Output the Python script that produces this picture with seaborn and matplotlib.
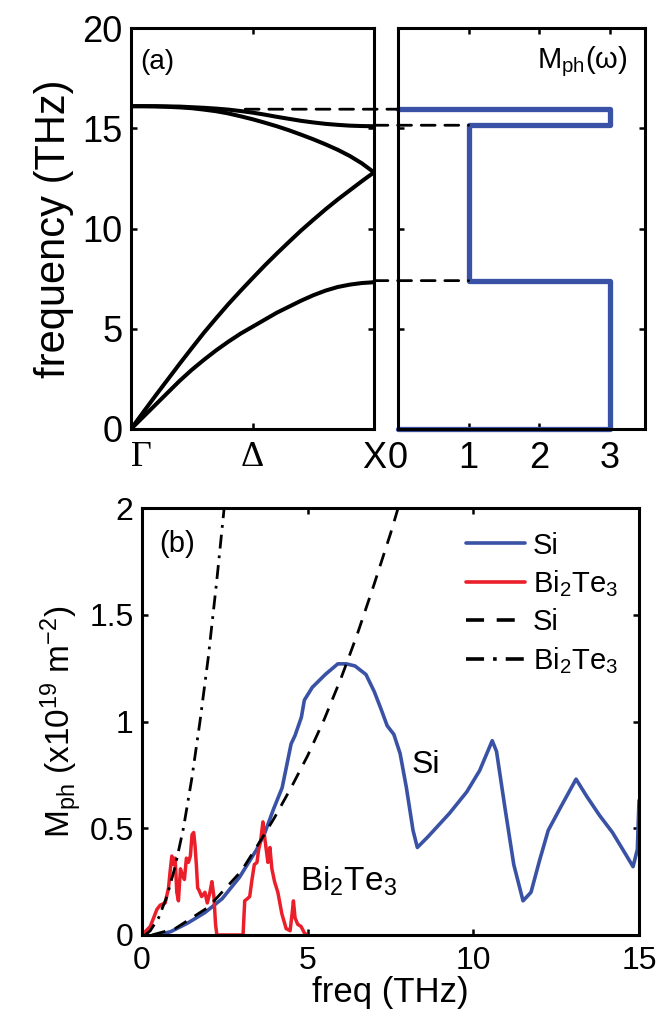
import numpy as np
import pandas as pd
import matplotlib
matplotlib.use("Agg")
import matplotlib.pyplot as plt
from matplotlib.patches import ConnectionPatch
import seaborn as sns

# ---------------- data: panel (a) dispersion ----------------
k_path = [0.0, 0.05, 0.1, 0.15, 0.2, 0.25, 0.3, 0.35, 0.4, 0.45, 0.5,
          0.55, 0.6, 0.65, 0.7, 0.75, 0.8, 0.85, 0.9, 0.95, 1.0]
ta_branch = [0.0, 0.6, 1.2, 1.8, 2.4, 2.95, 3.45, 3.92, 4.35, 4.75, 5.1,
             5.45, 5.8, 6.1, 6.4, 6.67, 6.9, 7.08, 7.2, 7.28, 7.32]
la_branch = [0.0, 0.83, 1.65, 2.45, 3.25, 4.03, 4.8, 5.52, 6.22, 6.88, 7.52,
             8.15, 8.75, 9.33, 9.9, 10.43, 10.95, 11.44, 11.9, 12.36, 12.8]
lo_branch = [16.1, 16.1, 16.09, 16.07, 16.04, 16.0, 15.93, 15.85, 15.74, 15.6, 15.45,
             15.28, 15.1, 14.9, 14.68, 14.45, 14.2, 13.93, 13.62, 13.25, 12.8]
to_branch = [16.1, 16.1, 16.1, 16.09, 16.08, 16.05, 16.02, 15.98, 15.93, 15.86, 15.78,
             15.68, 15.57, 15.47, 15.37, 15.29, 15.22, 15.17, 15.13, 15.11, 15.1]
k_labels = ["\u0393", "\u0394", "X"]

# step function M_ph(omega)
mph_edges = [0.0, 7.4, 15.15, 15.95]
mph_levels = [3, 1, 3, 0]
dash_start_k = [0.47, 1.0, 1.0]          # where the dashed guides start in panel (a)
dash_freq = [15.95, 15.15, 7.4]
dash_end_m = [0.0, 1.0, 1.0]

# ---------------- data: panel (b) ----------------
si_freq = [0.48, 0.87, 1.38, 1.9, 2.42, 2.94, 3.46, 3.71, 3.97, 4.23, 4.5, 4.62, 4.81, 4.9,
           5.14, 5.53, 5.91, 6.17, 6.43, 6.76, 7.01, 7.21, 7.4, 7.6, 7.79, 7.98, 8.18, 8.31,
           8.63, 9.28, 9.8, 10.19, 10.57, 10.7, 10.96, 11.22, 11.5, 11.74, 12.0, 12.26, 12.64,
           13.1, 13.42, 13.81, 14.2, 14.59, 14.82, 14.95, 15.0]
si_mph = [0.0, 0.016, 0.056, 0.105, 0.17, 0.27, 0.40, 0.48, 0.59, 0.69, 0.895, 0.935, 1.02, 1.1,
          1.16, 1.22, 1.27, 1.27, 1.26, 1.22, 1.14, 1.06, 0.98, 0.94, 0.85, 0.69, 0.49, 0.41,
          0.46, 0.57, 0.67, 0.77, 0.91, 0.86, 0.59, 0.33, 0.16, 0.2, 0.35, 0.49, 0.6,
          0.73, 0.65, 0.56, 0.48, 0.38, 0.32, 0.4, 0.63]

bi_freq = [0.0, 0.25, 0.45, 0.55, 0.7, 0.8, 0.85, 0.9, 0.95, 1.0, 1.05, 1.1, 1.16, 1.22,
           1.28, 1.34, 1.4, 1.46, 1.51, 1.56, 1.6, 1.64, 1.68, 1.72, 1.8, 1.9, 1.97, 2.05,
           2.11, 2.17, 2.22, 2.26, 3.05, 3.1, 3.18, 3.25, 3.32, 3.39, 3.47, 3.52, 3.58, 3.65,
           3.7, 3.75, 3.8, 3.86, 3.92, 4.0, 4.1, 4.22, 4.35, 4.47, 4.53, 4.57, 4.62, 4.7,
           4.8, 4.9, 4.98]
bi_mph = [0.0, 0.04, 0.12, 0.14, 0.15, 0.22, 0.3, 0.37, 0.33, 0.36, 0.2, 0.16, 0.31, 0.28,
          0.26, 0.36, 0.34, 0.37, 0.47, 0.48, 0.42, 0.33, 0.22, 0.21, 0.18, 0.2, 0.15, 0.2,
          0.25, 0.18, 0.05, 0.0, 0.0, 0.16, 0.17, 0.18, 0.26, 0.33, 0.34, 0.4, 0.44, 0.53,
          0.46, 0.4, 0.34, 0.41, 0.31, 0.25, 0.2, 0.1, 0.03, 0.02, 0.1, 0.16, 0.08, 0.05,
          0.04, 0.01, 0.0]

si_model_freq = [0.3, 1.0, 2.0, 3.0, 3.65, 4.0, 4.5, 5.0, 5.5, 6.0, 6.24, 6.5, 7.0, 7.5, 7.73]
si_model_mph = [0.0, 0.03, 0.13, 0.30, 0.46, 0.55, 0.69, 0.84, 1.01, 1.2, 1.3, 1.41, 1.64, 1.88, 2.0]

bi_model_freq = [0.1, 0.25, 0.5, 0.75, 1.0, 1.25, 1.5, 1.75, 2.0, 2.25, 2.48]
bi_model_mph = [0.0, 0.02, 0.08, 0.18, 0.32, 0.5, 0.73, 1.0, 1.3, 1.65, 2.0]

legend_labels = ["Si", "Bi$_2$Te$_3$", "Si", "Bi$_2$Te$_3$"]
b_xticks = [0, 5, 10, 15]
b_yticks = [0, 0.5, 1, 1.5, 2]
b_ytick_labels = ["0", "0.5", "1", "1.5", "2"]

BLUE = "#3a52a5"
RED = "#ea1f2a"

# ---------------- style ----------------
sns.set_theme(style="ticks")
plt.rcParams["font.family"] = ["Liberation Sans", "DejaVu Sans"]
plt.rcParams.update({
    "mathtext.fontset": "custom",
    "mathtext.rm": "Liberation Sans",
    "mathtext.it": "Liberation Sans:italic",
    "mathtext.bf": "Liberation Sans:bold",
    "axes.edgecolor": "black",
    "axes.linewidth": 2.2,
    "xtick.color": "black",
    "ytick.color": "black",
    "text.color": "black",
    "axes.labelcolor": "black",
})

fig = plt.figure(figsize=(6.72, 10.19), dpi=100)
W, H = 672.0, 1019.0
ax1 = fig.add_axes([131 / W, 1 - 429 / H, 243 / W, 401 / H])
ax2 = fig.add_axes([398 / W, 1 - 429 / H, 247 / W, 401 / H])
ax3 = fig.add_axes([142 / W, 1 - 935 / H, 497 / W, 427 / H])

for ax in (ax1, ax2, ax3):
    ax.tick_params(direction="in", top=True, right=True, length=4, width=1.8)
    for s in ax.spines.values():
        s.set_linewidth(2.2)
        s.set_color("black")

# ---- panel (a) left: dispersion
n = len(k_path)
disp = pd.DataFrame({"k": k_path * 4,
                     "f": ta_branch + la_branch + lo_branch + to_branch,
                     "branch": ["TA"] * n + ["LA"] * n + ["LO"] * n + ["TO"] * n})
for br in ["TA", "LA", "LO", "TO"]:
    sub = disp[disp["branch"] == br]
    sns.lineplot(data=sub, x="k", y="f", ax=ax1, color="black", lw=2.9,
                 estimator=None, sort=False, legend=False)
ax1.set_xlim(0, 1)
ax1.set_ylim(0, 20)
ax1.set_xticks([0, 0.5, 1])
ax1.set_xticklabels(k_labels)
xl = ax1.get_xticklabels()
xl[0].set_fontfamily(["Liberation Serif"])
xl[1].set_fontfamily(["Liberation Serif"])
xl[0].set_ha("left")
ax1.set_yticks([0, 5, 10, 15, 20])
ax1.tick_params(axis="both", labelsize=26)
ax1.tick_params(axis="x", pad=9)
ax1.tick_params(axis="y", pad=6)
ax1.set_xlabel("")
ax1.set_ylabel("frequency (THz)", fontsize=30, labelpad=6)
ax1.text(0.11, 0.915, "(a)", transform=ax1.transAxes, fontsize=20, ha="center", va="center")

# ---- panel (a) right: M_ph step
xs = [0]
ys = [mph_edges[0]]
for i, lev in enumerate(mph_levels[:-1]):
    xs += [lev, lev]
    ys += [mph_edges[i], mph_edges[i + 1]]
xs.append(mph_levels[-1])
ys.append(mph_edges[-1])
step_df = pd.DataFrame({"m": xs, "f": ys})
sns.lineplot(data=step_df, x="m", y="f", ax=ax2, color=BLUE, lw=3.8,
             estimator=None, sort=False, legend=False)
for ln in ax2.lines:
    ln.set_clip_on(False)
    ln.set_solid_joinstyle("round")
ax2.set_xlim(0, 3.5)
ax2.set_ylim(0, 20)
ax2.set_xticks([0, 1, 2, 3])
ax2.set_yticks([0, 5, 10, 15, 20])
ax2.set_yticklabels([])
ax2.tick_params(axis="x", labelsize=26, pad=9)
ax2.set_xlabel("")
ax2.set_ylabel("")
ax2.text(0.93, 0.915, "M$_{\\mathrm{ph}}$(\u03c9)", transform=ax2.transAxes, fontsize=21,
         ha="right", va="center")

for k0, fq, m1 in zip(dash_start_k, dash_freq, dash_end_m):
    con = ConnectionPatch(xyA=(k0, fq), coordsA=ax1.transData,
                          xyB=(m1, fq), coordsB=ax2.transData,
                          color="black", lw=2.0, linestyle=(0, (5, 3.5)), zorder=1)
    fig.add_artist(con)

# ---- panel (b)
sns.lineplot(x=si_freq, y=si_mph, ax=ax3, color=BLUE, lw=2.6, estimator=None, sort=False,
             label=legend_labels[0])
sns.lineplot(x=bi_freq, y=bi_mph, ax=ax3, color=RED, lw=2.5, estimator=None, sort=False,
             label=legend_labels[1])
sns.lineplot(x=si_model_freq, y=si_model_mph, ax=ax3, color="black", lw=2.0, estimator=None,
             sort=False, label=legend_labels[2])
ax3.lines[-1].set_dashes([5, 3.5])
sns.lineplot(x=bi_model_freq, y=bi_model_mph, ax=ax3, color="black", lw=2.0, estimator=None,
             sort=False, label=legend_labels[3])
ax3.lines[-1].set_dashes([5, 2.5, 1, 2.5])

ax3.set_xlim(0, 15)
ax3.set_ylim(0, 2)
ax3.set_xticks(b_xticks)
ax3.set_yticks(b_yticks)
ax3.set_yticklabels(b_ytick_labels)
ax3.tick_params(axis="both", labelsize=23)
ax3.tick_params(axis="x", pad=8)
ax3.tick_params(axis="y", pad=6)
ax3.set_xlabel("freq (THz)", fontsize=25, labelpad=0)
ax3.set_ylabel("M$_{\\mathrm{ph}}$ (x10$^{19}$ m$^{-2}$)", fontsize=24, labelpad=4)
ax3.text(1.06, 1.83, "(b)", fontsize=21, ha="center", va="center")
ax3.text(8.14, 0.76, "Si", fontsize=23, ha="left", va="baseline")
ax3.text(4.78, 0.21, "Bi$_2$Te$_3$", fontsize=24, ha="left", va="baseline")

leg = ax3.legend(loc="upper right", bbox_to_anchor=(0.975, 0.965), frameon=False,
                 fontsize=21, handlelength=2.0, handletextpad=0.28, labelspacing=0.3,
                 borderaxespad=0, borderpad=0.3)
for h in leg.get_lines():
    h.set_linewidth(2.6)

fig.savefig("out.png", dpi=100)
